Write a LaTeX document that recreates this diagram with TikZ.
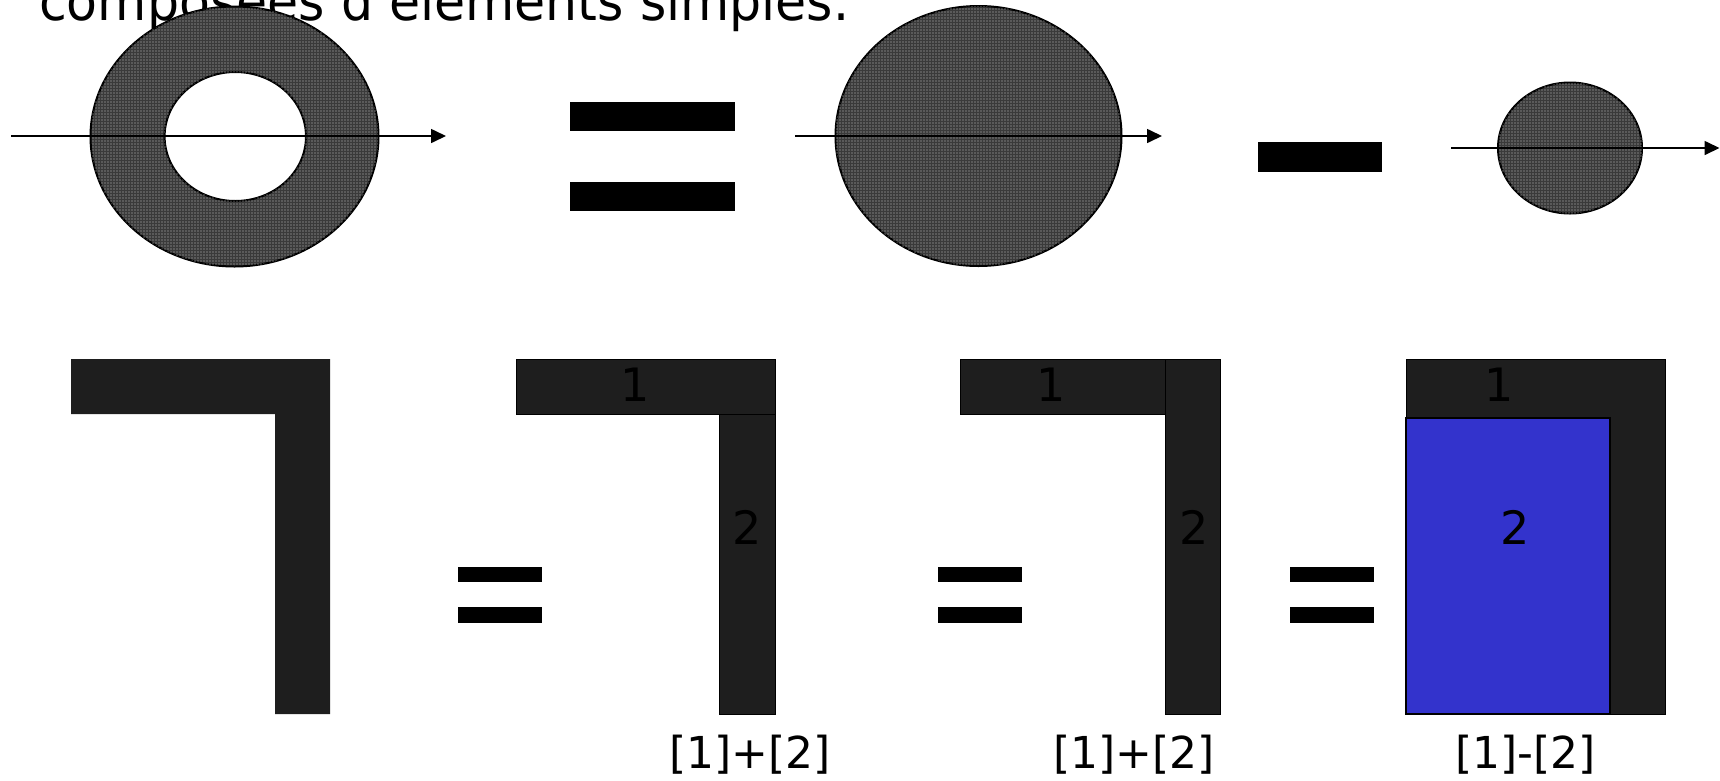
\documentclass[tikz,border=0pt]{standalone}
\usepackage{fontspec}
\setmainfont{DejaVu Sans}
\usetikzlibrary{arrows.meta,patterns.meta}
\definecolor{barcol}{HTML}{1E1E1E}
\definecolor{blu}{HTML}{3333CC}
\definecolor{dotbase}{HTML}{3A3A3A}
\definecolor{dotlight}{HTML}{C8C8C8}
\tikzset{
  ell/.style={draw=black, line width=2pt, fill=dotbase,
    postaction={pattern={Dots[distance=3pt,radius=0.7pt]}, pattern color=dotlight}},
  axis/.style={line width=1.6pt, -{Triangle[length=15pt,width=14pt]}},
  eqbar/.style={fill=black},
  blk/.style={fill=barcol, draw=black, line width=1pt},
  bluebox/.style={fill=blu, draw=black, line width=1.2pt},
  num/.style={font=\fontsize{46}{46}\selectfont, inner sep=0pt, anchor=base},
  lbl/.style={font=\fontsize{44}{44}\selectfont, inner sep=0pt, anchor=base},
}
\begin{document}
\begin{tikzpicture}[x=1pt,y=-1pt]
\useasboundingbox (0,0) rectangle (1720,780);
\clip (0,0) rectangle (1720,780);
% title (cut at top)
\node[anchor=base west, inner sep=0pt, font=\fontsize{54}{54}\selectfont] (title) at (39,20.5)
  {\scalebox{0.936}[1]{composées d'éléments simples.}};
% top row
\path[ell, even odd rule] (234.5,136.5) ellipse [x radius=144, y radius=130]
  (235.3,136.5) ellipse [x radius=70.7, y radius=64.5];
\coordinate (a1s) at (11,136);
\coordinate (a1e) at (446,136);
\draw[axis] (a1s) -- (a1e);
\fill[eqbar] (570,102) rectangle (735,131);
\fill[eqbar] (570,182) rectangle (735,211);
\path[ell] (978.5,136) ellipse [x radius=143, y radius=130];
\coordinate (a2s) at (795,136);
\coordinate (a2e) at (1162,136);
\draw[axis] (a2s) -- (a2e);
\fill[eqbar] (1258,142) rectangle (1382,171.5);
\path[ell] (1570,148) ellipse [x radius=72, y radius=65.5];
\coordinate (a3s) at (1451,148);
\coordinate (a3e) at (1719.5,148);
\draw[axis] (a3s) -- (a3e);
% bottom row
\fill[barcol] (71,359) -- (330,359) -- (330,714) -- (275,714) -- (275,414) -- (71,414) -- cycle;
\foreach \x in {457.7,937.7,1290}{
  \fill[eqbar] (\x,566.7) rectangle ++(84,15.6);
  \fill[eqbar] (\x,607.3) rectangle ++(84,15.4);
}
% shape 2
\draw[blk] (516,359) rectangle (775,414);
\draw[blk] (719.5,414) rectangle (775,714);
\node[num] (s2a) at (635,401.5) {1};
\node[num] (s2b) at (747,544.5) {2};
\node[lbl] (s2l) at (750,768) {[1]+[2]};
% shape 3
\draw[blk] (960.5,359) rectangle (1165,414);
\draw[blk] (1165,359) rectangle (1220,714);
\node[num] (s3a) at (1051,401) {1};
\node[num] (s3b) at (1194,544) {2};
\node[lbl] (s3l) at (1134,768) {[1]+[2]};
% shape 4
\draw[blk] (1406,359) rectangle (1665,714);
\draw[bluebox] (1406,418) rectangle (1610,714);
\node[num] (s4a) at (1499,401) {1};
\node[num] (s4b) at (1515,544) {2};
\node[lbl] (s4l) at (1525.5,768) {[1]-[2]};
\end{tikzpicture}
\end{document}
